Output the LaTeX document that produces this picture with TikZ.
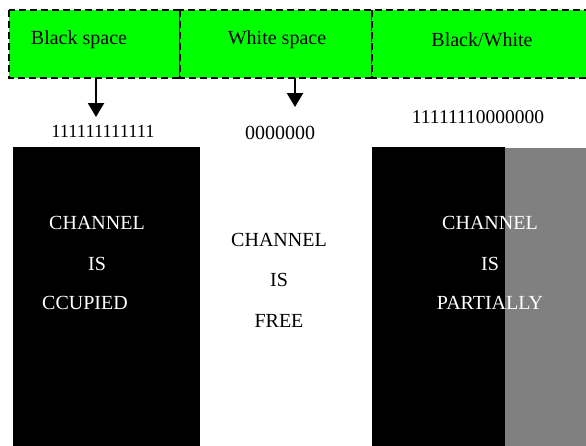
\documentclass[tikz,border=0pt]{standalone}
\usepackage{fontspec}
\setmainfont{Liberation Serif}
\newfontfamily\tnrfont{Liberation Serif}
\usetikzlibrary{arrows.meta}
\definecolor{brightgreen}{HTML}{00FF00}
\definecolor{midgray}{HTML}{808080}
\tikzset{
  seg/.style={draw=black, fill=brightgreen, dash pattern=on 7pt off 4pt, line width=2pt},
  panelblack/.style={fill=black, draw=none},
  panelgray/.style={fill=midgray, draw=none},
  wtxt/.style={text=white, inner sep=0pt, font=\tnrfont\fontsize{20}{22}\selectfont},
  btxt/.style={text=black, inner sep=0pt, font=\tnrfont\fontsize{20}{22}\selectfont},
  arr/.style={line width=2.2pt, -{Triangle[width=16pt,length=14pt]}},
}
\begin{document}
\begin{tikzpicture}[x=1pt,y=-1pt]
\useasboundingbox (0,0) rectangle (586,445);
\begin{scope}
\clip (0,0) rectangle (586,445);
% panels
\path[panelblack] (12.5,146.5) rectangle (199.5,450);
\path[panelblack] (372,147) rectangle (505,450);
\path[panelgray] (505,147.5) rectangle (600,450);
% green bar
\draw[seg] (9,9.5) rectangle (180,78);
\draw[seg] (180,9.5) rectangle (372,78);
\draw[seg] (372,9.5) rectangle (600,78);
\end{scope}
% segment labels
\node[btxt] (lblack) at (79,40) {Black space};
\node[btxt] (lwhite) at (277,40) {White space};
\node[btxt] (lbw) at (482,40) {Black/White};
% bit strings
\node[btxt, font=\tnrfont\fontsize{18.5}{20}\selectfont] (bits1) at (103,131) {111111111111};
\node[btxt] (bits0) at (280,133) {0000000};
\node[btxt, font=\tnrfont\fontsize{19.5}{21}\selectfont] (bitsm) at (478,117) {11111110000000};
% arrows
\coordinate (a1s) at (96,78);
\coordinate (a1e) at (96,117);
\coordinate (a2s) at (295,78);
\coordinate (a2e) at (295,107);
\draw[arr] (a1s) -- (a1e);
\draw[arr] (a2s) -- (a2e);
% panel texts
\node[wtxt] (c1) at (97,223) {CHANNEL};
\node[wtxt] (i1) at (97,264) {IS};
\node[wtxt] (o1) at (85,303) {CCUPIED};
\node[btxt] (c2) at (279,240) {CHANNEL};
\node[btxt] (i2) at (279,280) {IS};
\node[btxt] (f2) at (279,321) {FREE};
\node[wtxt] (c3) at (490,223) {CHANNEL};
\node[wtxt] (i3) at (490,264) {IS};
\node[wtxt] (p3) at (490,303) {PARTIALLY};
\end{tikzpicture}
\end{document}
